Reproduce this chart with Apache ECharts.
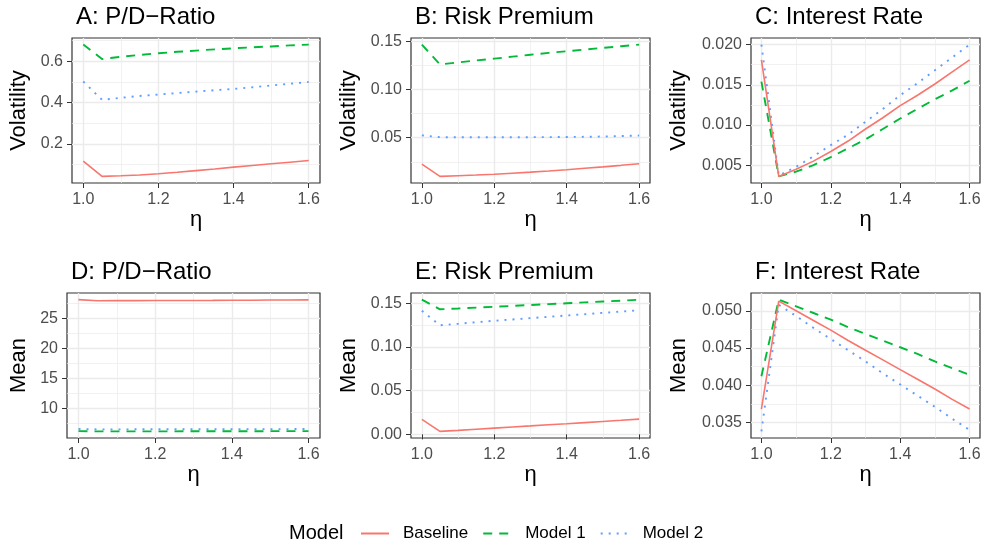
<!DOCTYPE html>
<html>
<head>
<meta charset="utf-8">
<script src="https://cdn.jsdelivr.net/npm/echarts@6/dist/echarts.min.js"></script>
<style>
html, body { margin: 0; padding: 0; background: #fff; }
#main { width: 983px; height: 548px; }
</style>
</head>
<body>
<div id="main"></div>
<script>
// eta grid (x axis of every panel)
var eta = [1.0, 1.05, 1.1, 1.15, 1.2, 1.25, 1.3, 1.35, 1.4, 1.45, 1.5, 1.55, 1.6];
var etaTicks = ['1.0', '1.2', '1.4', '1.6'];

var models = ['Baseline', 'Model 1', 'Model 2'];
var colors = ['#F8766D', '#00BA38', '#619CFF'];

// A: volatility of the P/D ratio
var volPdBase = [0.116, 0.042, 0.045, 0.049, 0.055, 0.062, 0.070, 0.078, 0.087, 0.095, 0.103, 0.111, 0.119];
var volPdM1   = [0.681, 0.611, 0.622, 0.631, 0.639, 0.646, 0.652, 0.658, 0.663, 0.668, 0.672, 0.677, 0.681];
var volPdM2   = [0.502, 0.413, 0.423, 0.432, 0.439, 0.446, 0.453, 0.460, 0.466, 0.474, 0.483, 0.491, 0.500];
var volPdTicks = ['0.2', '0.4', '0.6'];

// B: volatility of the risk premium
var volRpBase = [0.0225, 0.0098, 0.0105, 0.0112, 0.0120, 0.0131, 0.0142, 0.0154, 0.0167, 0.0182, 0.0197, 0.0213, 0.0230];
var volRpM1   = [0.1466, 0.1260, 0.1281, 0.1301, 0.1320, 0.1341, 0.1361, 0.1380, 0.1397, 0.1415, 0.1432, 0.1449, 0.1466];
var volRpM2   = [0.0524, 0.0505, 0.0504, 0.0504, 0.0504, 0.0504, 0.0505, 0.0506, 0.0507, 0.0509, 0.0512, 0.0517, 0.0522];
var volRpTicks = ['0.05', '0.10', '0.15'];

// C: volatility of the interest rate
var volIrBase = [0.0181, 0.0036, 0.0045, 0.0055, 0.0067, 0.0080, 0.0095, 0.0109, 0.0124, 0.0137, 0.0151, 0.0166, 0.0181];
var volIrM1   = [0.0154, 0.0036, 0.0042, 0.0050, 0.0060, 0.0071, 0.0082, 0.0095, 0.0108, 0.0120, 0.0132, 0.0143, 0.0155];
var volIrM2   = [0.0200, 0.0037, 0.0048, 0.0061, 0.0075, 0.0088, 0.0104, 0.0120, 0.0137, 0.0152, 0.0168, 0.0184, 0.0200];
var volIrTicks = ['0.005', '0.010', '0.015', '0.020'];

// D: mean of the P/D ratio
var meanPdBase = [28.15, 27.95, 27.97, 27.98, 27.99, 28.00, 28.01, 28.02, 28.04, 28.05, 28.07, 28.08, 28.10];
var meanPdM1   = [6.17, 6.12, 6.12, 6.13, 6.13, 6.13, 6.14, 6.14, 6.15, 6.15, 6.16, 6.17, 6.17];
var meanPdM2   = [6.52, 6.46, 6.46, 6.47, 6.47, 6.48, 6.48, 6.49, 6.49, 6.50, 6.50, 6.51, 6.52];
var meanPdTicks = ['10', '15', '20', '25'];

// E: mean of the risk premium
var meanRpBase = [0.0171, 0.0034, 0.0046, 0.0059, 0.0072, 0.0085, 0.0097, 0.0110, 0.0122, 0.0135, 0.0148, 0.0161, 0.0175];
var meanRpM1   = [0.1542, 0.1431, 0.1440, 0.1450, 0.1460, 0.1470, 0.1480, 0.1490, 0.1500, 0.1510, 0.1520, 0.1530, 0.1540];
var meanRpM2   = [0.1415, 0.1248, 0.1265, 0.1283, 0.1300, 0.1315, 0.1330, 0.1345, 0.1360, 0.1375, 0.1390, 0.1405, 0.1420];
var meanRpTicks = ['0.00', '0.05', '0.10', '0.15'];

// F: mean of the interest rate
var meanIrBase = [0.0368, 0.0513, 0.0500, 0.0487, 0.0474, 0.0460, 0.0447, 0.0434, 0.0421, 0.0408, 0.0395, 0.0381, 0.0368];
var meanIrM1   = [0.0412, 0.0515, 0.0506, 0.0497, 0.0488, 0.0478, 0.0469, 0.0460, 0.0451, 0.0442, 0.0432, 0.0423, 0.0414];
var meanIrM2   = [0.0338, 0.0508, 0.0493, 0.0477, 0.0462, 0.0447, 0.0432, 0.0416, 0.0401, 0.0386, 0.0371, 0.0355, 0.0340];
var meanIrTicks = ['0.035', '0.040', '0.045', '0.050'];

var FONT = '"Liberation Sans", Arial, Helvetica, sans-serif';

// panel layout (pixels); cellLeft = left edge of the facet cell
var panels = [
    {title: 'A: P/D\u2212Ratio', yName: 'Volatility', lines: [volPdBase, volPdM1, volPdM2], ticks: volPdTicks,
     left: 72, top: 38, width: 248, height: 145, cellLeft: 0},
    {title: 'B: Risk Premium', yName: 'Volatility', lines: [volRpBase, volRpM1, volRpM2], ticks: volRpTicks,
     left: 411, top: 38, width: 239, height: 145, cellLeft: 330},
    {title: 'C: Interest Rate', yName: 'Volatility', lines: [volIrBase, volIrM1, volIrM2], ticks: volIrTicks,
     left: 751, top: 38, width: 229, height: 145, cellLeft: 660},
    {title: 'D: P/D\u2212Ratio', yName: 'Mean', lines: [meanPdBase, meanPdM1, meanPdM2], ticks: meanPdTicks,
     left: 67, top: 293, width: 253, height: 145, cellLeft: 0},
    {title: 'E: Risk Premium', yName: 'Mean', lines: [meanRpBase, meanRpM1, meanRpM2], ticks: meanRpTicks,
     left: 411, top: 293, width: 239, height: 145, cellLeft: 330},
    {title: 'F: Interest Rate', yName: 'Mean', lines: [meanIrBase, meanIrM1, meanIrM2], ticks: meanIrTicks,
     left: 751, top: 293, width: 229, height: 145, cellLeft: 660}
];

var lineTypes = ['solid', [9, 7], [2, 6]];

// ggplot style 5% expansion of the data range
function expand(arrs) {
    var lo = Infinity, hi = -Infinity;
    arrs.forEach(function (a) {
        a.forEach(function (v) { lo = Math.min(lo, v); hi = Math.max(hi, v); });
    });
    var pad = (hi - lo) * 0.05;
    return [lo - pad, hi + pad];
}

// minor breaks: halfway between major breaks, kept inside the range
function minors(majors, range) {
    var step = majors[1] - majors[0];
    var out = [];
    for (var k = 0; k <= majors.length; k++) {
        var v = +(majors[0] - step / 2 + k * step).toFixed(6);
        if (v > range[0] && v < range[1]) out.push(v);
    }
    return out;
}

function labelFor(labels) {
    return function (v) {
        for (var i = 0; i < labels.length; i++) {
            if (Math.abs(Number(labels[i]) - v) < 1e-9) return labels[i];
        }
        return '';
    };
}

var grids = [], xAxes = [], yAxes = [], series = [], titles = [];
var xRange = expand([eta]);
var xMajor = etaTicks.map(Number);
var xMinor = minors(xMajor, xRange);

panels.forEach(function (p, i) {
    grids.push({
        left: p.left, top: p.top, width: p.width, height: p.height,
        show: true, borderColor: '#333333', borderWidth: 1.2, backgroundColor: '#fff',
        containLabel: false, outerBoundsMode: 'none'
    });
    titles.push({
        text: p.title, left: p.left - 1, top: p.top - 38,
        textStyle: {fontFamily: FONT, fontSize: 24, fontWeight: 'normal', color: '#000'}
    });

    var yRange = expand(p.lines);
    var yMajor = p.ticks.map(Number);
    var yMinor = minors(yMajor, yRange);

    // major x axis
    xAxes.push({
        type: 'value', gridIndex: i, min: xRange[0], max: xRange[1],
        name: '\u03b7', nameLocation: 'middle', nameGap: 25,
        nameTextStyle: {fontFamily: FONT, fontSize: 22, color: '#000'},
        axisLine: {show: false},
        axisTick: {show: true, length: 5, customValues: xMajor, lineStyle: {color: '#333333', width: 1}},
        axisLabel: {customValues: xMajor, formatter: labelFor(etaTicks), margin: 9,
                    fontFamily: FONT, fontSize: 16, color: '#4D4D4D'},
        splitLine: {show: true, lineStyle: {color: '#EBEBEB', width: 1.4}}
    });
    // minor x grid
    xAxes.push({
        type: 'value', gridIndex: i, min: xRange[0], max: xRange[1],
        axisLine: {show: false}, axisLabel: {show: false},
        axisTick: {show: false, customValues: xMinor},
        splitLine: {show: true, lineStyle: {color: '#EBEBEB', width: 0.7}}
    });
    // major y axis
    yAxes.push({
        type: 'value', gridIndex: i, min: yRange[0], max: yRange[1],
        name: p.yName, nameLocation: 'middle', nameRotate: 90,
        nameGap: p.left - p.cellLeft - 30,
        nameTextStyle: {fontFamily: FONT, fontSize: 22, color: '#000'},
        axisLine: {show: false},
        axisTick: {show: true, length: 5, customValues: yMajor, lineStyle: {color: '#333333', width: 1}},
        axisLabel: {customValues: yMajor, formatter: labelFor(p.ticks), margin: 9,
                    fontFamily: FONT, fontSize: 16, color: '#4D4D4D'},
        splitLine: {show: true, lineStyle: {color: '#EBEBEB', width: 1.4}}
    });
    // minor y grid
    yAxes.push({
        type: 'value', gridIndex: i, min: yRange[0], max: yRange[1],
        axisLine: {show: false}, axisLabel: {show: false},
        axisTick: {show: false, customValues: yMinor},
        splitLine: {show: true, lineStyle: {color: '#EBEBEB', width: 0.7}}
    });

    p.lines.forEach(function (vals, m) {
        series.push({
            type: 'line', name: models[m],
            xAxisIndex: 2 * i, yAxisIndex: 2 * i,
            data: eta.map(function (x, k) { return [x, vals[k]]; }),
            symbol: 'none', showSymbol: false, silent: true,
            color: colors[m],
            lineStyle: {color: colors[m], width: m === 0 ? 1.6 : 1.9, type: lineTypes[m], cap: 'butt'},
            z: 3 + (2 - m)
        });
    });
});

titles.push({
    text: 'Model', left: 284, top: 518,
    textStyle: {fontFamily: FONT, fontSize: 20, fontWeight: 'normal', color: '#000'}
});

var chart = echarts.init(document.getElementById('main'), null, {renderer: 'canvas'});
chart.setOption({
    animation: false,
    backgroundColor: '#fff',
    title: titles,
    legend: {
        data: models, left: 355, top: 520,
        itemWidth: 28, itemHeight: 14, itemGap: 14,
        itemStyle: {opacity: 0, borderWidth: 0},
        textStyle: {fontFamily: FONT, fontSize: 17, color: '#000', padding: [0, 0, 0, 9]}
    },
    grid: grids,
    xAxis: xAxes,
    yAxis: yAxes,
    series: series
});
</script>
</body>
</html>
